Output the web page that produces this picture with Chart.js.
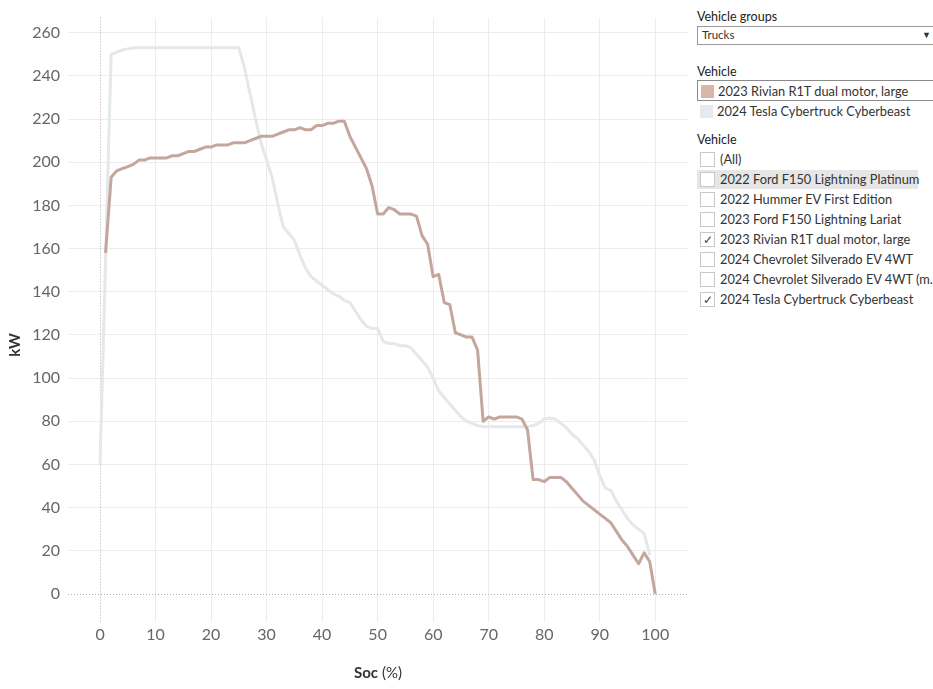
<!DOCTYPE html>
<html lang="en">
<head>
  <meta charset="UTF-8" />
  <title>Charging curves</title>
  <script src="https://cdn.jsdelivr.net/npm/chart.js"></script>
  <style>
    body { margin: 0; background: #fff; font-family: Lato, "Noto Sans", sans-serif; color: #333; }
    #wrap { position: relative; width: 933px; height: 689px; overflow: hidden; }
    #chart { position: absolute; left: 0; top: 0; }
    .side { position: absolute; left: 697px; top: 0; width: 236px; font-size: 12.8px; }
    .hdr { position: absolute; left: 0; color: #222; font-size: 12.5px; }
    .drop { position: absolute; left: 0; top: 26px; width: 240px; height: 19px; border: 1px solid #9a9a9a; box-sizing: border-box; }
    .drop span { position: absolute; left: 4px; top: 1px; font-size: 11.5px; }
    .drop i { position: absolute; right: 5px; top: 2px; font-style: normal; font-size: 9px; }
    .leg { position: absolute; left: 0; height: 21px; width: 240px; box-sizing: border-box; }
    .leg.sel { border: 1px solid #8a8a8a; }
    .sw { position: absolute; left: 3px; top: 4px; width: 13px; height: 13px; }
    .leg span, .row span { position: absolute; left: 20px; top: 2px; white-space: nowrap; }
    .row { position: absolute; left: 0; height: 19px; width: 221px; }
    .row.hl { background: #e6e6e6; }
    .cb { position: absolute; left: 3px; top: 2px; width: 15px; height: 15px; border: 1px solid #c8c8c8; background: #fff; box-sizing: border-box; font-size: 12px; line-height: 13px; text-align: center; color: #444; }
    .row span { left: 23px; top: 1px; }
  </style>
</head>
<body>
<div id="wrap">
  <canvas id="chart" width="690" height="689"></canvas>
  <div class="side">
    <div class="hdr" style="top:9px">Vehicle groups</div>
    <div class="drop"><span>Trucks</span><i>&#9660;</i></div>
    <div class="hdr" style="top:64px">Vehicle</div>
    <div class="leg sel" style="top:80px"><div class="sw" style="background:#d8b6a8"></div><span>2023 Rivian R1T dual motor, large</span></div>
    <div class="leg" style="top:101px"><div class="sw" style="background:#e6eaee"></div><span>2024 Tesla Cybertruck Cyberbeast</span></div>
    <div class="hdr" style="top:132px">Vehicle</div>
    <div id="list"></div>
  </div>
</div>

<script>
  // vehicle filter list (right panel)
  const vehicles = ["(All)", "2022 Ford F150 Lightning Platinum", "2022 Hummer EV First Edition",
    "2023 Ford F150 Lightning Lariat", "2023 Rivian R1T dual motor, large", "2024 Chevrolet Silverado EV 4WT",
    "2024 Chevrolet Silverado EV 4WT (m..", "2024 Tesla Cybertruck Cyberbeast"];
  const checked = [false, false, false, false, true, false, false, true];

  // charging curves: state of charge (%) vs power (kW)
  const rivianSoc = [1, 2, 3, 4, 5, 6, 7, 8, 9, 10, 11, 12, 13, 14, 15, 16, 17, 18, 19, 20,
    21, 22, 23, 24, 25, 26, 27, 28, 29, 30, 31, 32, 33, 34, 35, 36, 37, 38, 39, 40,
    41, 42, 43, 44, 45, 46, 47, 48, 49, 50, 51, 52, 53, 54, 55, 56, 57, 58, 59, 60,
    61, 62, 63, 64, 65, 66, 67, 68, 69, 70, 71, 72, 73, 74, 75, 76, 77, 78, 79, 80,
    81, 82, 83, 84, 85, 86, 87, 88, 89, 90, 91, 92, 93, 94, 95, 96, 97, 98, 99, 100];
  const rivianKw = [158, 193, 196, 197, 198, 199, 201, 201, 202, 202, 202, 202, 203, 203, 204, 205, 205, 206, 207, 207,
    208, 208, 208, 209, 209, 209, 210, 211, 212, 212, 212, 213, 214, 215, 215, 216, 215, 215, 217, 217,
    218, 218, 219, 219, 212, 207, 202, 197, 189, 176, 176, 179, 178, 176, 176, 176, 175, 166, 162, 147,
    148, 135, 134, 121, 120, 119, 119, 113, 80, 82, 81, 82, 82, 82, 82, 81, 76, 53, 53, 52,
    54, 54, 54, 52, 49, 46, 43, 41, 39, 37, 35, 33, 29, 25, 22, 18, 14, 19, 15, 0];

  const teslaSoc = [0, 2, 3, 4, 5, 6, 7, 8, 9, 10, 11, 12, 13, 14, 15, 16, 17, 18, 19, 20,
    21, 22, 23, 24, 25, 26, 27, 28, 29, 30, 31, 32, 33, 34, 35, 36, 37, 38, 39, 40,
    41, 42, 43, 44, 45, 46, 47, 48, 49, 50, 51, 52, 53, 54, 55, 56, 57, 58, 59, 60,
    61, 62, 63, 64, 65, 66, 67, 68, 69, 70, 71, 72, 73, 74, 75, 76, 77, 78, 79, 80,
    81, 82, 83, 84, 85, 86, 87, 88, 89, 90, 91, 92, 93, 94, 95, 96, 97, 98, 99];
  const teslaKw = [60, 250, 251, 252, 252.5, 253, 253, 253, 253, 253, 253, 253, 253, 253, 253, 253, 253, 253, 253, 253,
    253, 253, 253, 253, 253, 244, 232, 220, 209, 201, 193, 181, 170, 167, 164, 157, 151, 147, 145, 143,
    141, 139, 138, 136, 135, 131, 127, 124, 123, 123, 117, 116, 116, 115, 115, 114, 111, 108, 105, 100,
    94, 91, 88, 85, 82, 80, 79, 78, 77.5, 77.5, 77.5, 77.5, 77.5, 77.5, 77.5, 77.5, 77.5, 78, 79, 81,
    81.5, 81, 79, 77, 74, 72, 69, 66, 62, 55, 49, 48, 43, 39, 35, 32, 30, 28, 18];

  const xTicks = [0, 10, 20, 30, 40, 50, 60, 70, 80, 90, 100];
  const yTicks = [0, 20, 40, 60, 80, 100, 120, 140, 160, 180, 200, 220, 240, 260];

  // build the filter list
  const list = document.getElementById("list");
  vehicles.forEach((v, i) => {
    const r = document.createElement("div");
    r.className = "row" + (i === 1 ? " hl" : "");
    r.style.top = (150 + i * 20) + "px";
    r.innerHTML = '<div class="cb">' + (checked[i] ? "&#10003;" : "") + '</div><span></span>';
    r.querySelector("span").textContent = v;
    list.appendChild(r);
  });

  const toPoints = (xs, ys) => xs.map((x, i) => ({ x: x, y: ys[i] }));

  // dotted zero lines + axis titles
  const extras = {
    id: "extras",
    beforeDatasetsDraw(chart) {
      const { ctx, chartArea, scales } = chart;
      ctx.save();
      ctx.strokeStyle = "#b0b0b0";
      ctx.lineWidth = 1;
      ctx.setLineDash([1, 2]);
      const x0 = Math.round(scales.x.getPixelForValue(0)) + 0.5;
      const y0 = Math.round(scales.y.getPixelForValue(0)) + 0.5;
      ctx.beginPath();
      ctx.moveTo(x0, chartArea.top); ctx.lineTo(x0, chartArea.bottom);
      ctx.moveTo(chartArea.left, y0); ctx.lineTo(chartArea.right, y0);
      ctx.stroke();
      ctx.restore();
    },
    afterDraw(chart) {
      const { ctx } = chart;
      ctx.save();
      ctx.fillStyle = "#333";
      ctx.textBaseline = "middle";
      ctx.font = "bold 15px Lato";
      ctx.translate(15, 345);
      ctx.rotate(-Math.PI / 2);
      ctx.textAlign = "center";
      ctx.fillText("kW", 0, 0);
      ctx.restore();

      ctx.save();
      ctx.fillStyle = "#333";
      ctx.textBaseline = "middle";
      ctx.font = "bold 15px Lato";
      const a = "Soc", b = " (%)";
      const wa = ctx.measureText(a).width;
      ctx.font = "15px Lato";
      const wb = ctx.measureText(b).width;
      const sx = 378 - (wa + wb) / 2;
      ctx.font = "bold 15px Lato";
      ctx.fillText(a, sx, 673);
      ctx.font = "15px Lato";
      ctx.fillText(b, sx + wa, 673);
      ctx.restore();
    }
  };

  const gridColor = ctx => (ctx.tick && ctx.tick.value === 0 ? "rgba(0,0,0,0)" : "#ececec");

  new Chart(document.getElementById("chart").getContext("2d"), {
    type: "line",
    data: {
      datasets: [
        {
          label: "2023 Rivian R1T dual motor, large",
          data: toPoints(rivianSoc, rivianKw),
          borderColor: "#c4a69c",
          borderWidth: 3
        },
        {
          label: "2024 Tesla Cybertruck Cyberbeast",
          data: toPoints(teslaSoc, teslaKw),
          borderColor: "#e2e8eb",
          borderWidth: 3
        }
      ]
    },
    options: {
      responsive: false,
      animation: false,
      layout: { padding: { top: 5, right: 2, left: 0, bottom: 0 } },
      elements: { point: { radius: 0 }, line: { tension: 0, borderJoinStyle: "round" } },
      plugins: { legend: { display: false }, tooltip: { enabled: false } },
      scales: {
        x: {
          type: "linear",
          min: -5.77,
          max: 105.9,
          afterBuildTicks: s => { s.ticks = xTicks.map(v => ({ value: v })); },
          afterFit: s => { s.height = 67; },
          grid: { color: gridColor, drawTicks: false },
          border: { display: false },
          ticks: { color: "#666", padding: 3, font: { family: "Lato", size: 16 } }
        },
        y: {
          min: -13,
          max: 267,
          afterBuildTicks: s => { s.ticks = yTicks.map(v => ({ value: v })); },
          afterFit: s => { s.width = 68; },
          grid: { color: gridColor, drawTicks: false },
          border: { display: false },
          ticks: { color: "#666", padding: 8, font: { family: "Lato", size: 16 } }
        }
      }
    },
    plugins: [extras]
  });
</script>
</body>
</html>
